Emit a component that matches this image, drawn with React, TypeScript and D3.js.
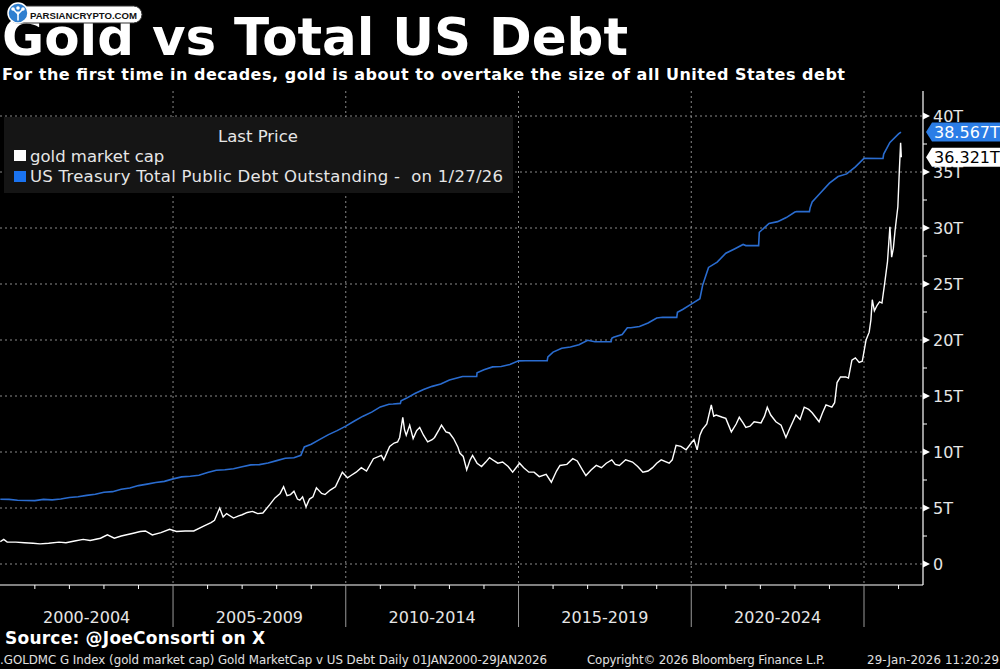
import React from "react";
import * as d3 from "d3";

// gold market cap (trillions USD), sampled at decimal years
const goldYears = [
  2000.0, 2000.1, 2000.2, 2000.45, 2000.7, 2000.95, 2001.15, 2001.4, 2001.7, 2001.9,
  2002.15, 2002.4, 2002.6, 2002.9, 2003.1, 2003.3, 2003.5, 2003.85, 2004.05, 2004.2,
  2004.4, 2004.65, 2004.9, 2005.1, 2005.35, 2005.6, 2005.9, 2006.1, 2006.2, 2006.35,
  2006.45, 2006.55, 2006.75, 2006.9, 2007.0, 2007.15, 2007.3, 2007.45, 2007.6, 2007.8,
  2007.95, 2008.1, 2008.2, 2008.3, 2008.4, 2008.5, 2008.6, 2008.67, 2008.75, 2008.85,
  2008.95, 2009.05, 2009.15, 2009.3, 2009.4, 2009.55, 2009.7, 2009.9, 2010.05, 2010.15,
  2010.3, 2010.45, 2010.6, 2010.8, 2011.03, 2011.1, 2011.27, 2011.4, 2011.5, 2011.56,
  2011.65, 2011.7, 2011.75, 2011.85, 2011.95, 2012.05, 2012.14, 2012.25, 2012.37, 2012.5,
  2012.57, 2012.7, 2012.77, 2012.9, 2013.0, 2013.12, 2013.25, 2013.3, 2013.4, 2013.5,
  2013.6, 2013.67, 2013.8, 2013.93, 2014.05, 2014.16, 2014.3, 2014.4, 2014.54, 2014.7,
  2014.83, 2015.03, 2015.15, 2015.3, 2015.45, 2015.6, 2015.8, 2015.95, 2016.1, 2016.2,
  2016.4, 2016.57, 2016.7, 2016.85, 2016.95, 2017.1, 2017.25, 2017.4, 2017.54, 2017.7,
  2017.8, 2017.92, 2018.1, 2018.3, 2018.45, 2018.6, 2018.75, 2018.88, 2019.0, 2019.13,
  2019.36, 2019.45, 2019.56, 2019.7, 2019.85, 2020.0, 2020.08, 2020.17, 2020.25, 2020.32,
  2020.45, 2020.58, 2020.65, 2020.72, 2020.9, 2021.0, 2021.16, 2021.3, 2021.39, 2021.5,
  2021.58, 2021.7, 2021.82, 2022.02, 2022.12, 2022.2, 2022.3, 2022.45, 2022.6, 2022.74,
  2022.85, 2023.03, 2023.15, 2023.27, 2023.4, 2023.5, 2023.7, 2023.8, 2023.9, 2024.07,
  2024.15, 2024.22, 2024.32, 2024.47, 2024.55, 2024.65, 2024.75, 2024.86, 2024.95, 2025.06,
  2025.15, 2025.2, 2025.24, 2025.3, 2025.38, 2025.45, 2025.52, 2025.6, 2025.68, 2025.75,
  2025.8, 2025.85, 2025.9, 2025.98, 2026.02, 2026.06, 2026.08,
];
const goldValues = [
  2.0, 2.2, 1.95, 1.95, 1.9, 1.85, 1.8, 1.85, 1.95, 1.9,
  2.05, 2.2, 2.1, 2.3, 2.6, 2.3, 2.5, 2.75, 2.9, 2.95,
  2.6, 2.8, 3.1, 2.9, 2.95, 2.95, 3.4, 3.7, 3.9, 5.0,
  4.2, 4.5, 4.1, 4.3, 4.4, 4.6, 4.7, 4.5, 4.55, 5.3,
  5.9, 6.3, 6.9, 6.1, 6.2, 6.5, 5.8, 5.7, 6.0, 5.1,
  5.8, 6.0, 6.8, 6.3, 6.2, 6.6, 6.9, 8.2, 7.7, 7.9,
  8.2, 8.6, 8.3, 9.4, 9.7, 9.3, 10.5, 10.8, 10.9, 11.3,
  13.1, 12.0, 11.5, 12.4, 11.2, 11.9, 12.2, 11.5, 10.9, 11.1,
  11.3, 12.0, 12.4, 11.8, 11.7, 11.2, 10.4, 9.9, 9.6, 8.4,
  9.3, 9.7, 9.0, 8.7, 9.1, 9.5, 9.2, 9.0, 9.1, 8.7,
  8.2, 9.0, 8.6, 8.2, 8.2, 7.8, 8.0, 7.3, 8.3, 8.8,
  8.9, 9.4, 9.2, 8.4, 7.9, 8.4, 8.8, 8.6, 9.0, 9.3,
  8.9, 8.8, 9.3, 9.1, 8.7, 8.2, 8.3, 8.6, 9.0, 9.3,
  9.0, 9.3, 10.6, 10.5, 10.2, 10.8, 11.1, 10.2, 11.5, 12.0,
  12.5, 14.2, 13.2, 13.3, 13.1, 13.0, 11.8, 12.5, 13.1, 12.6,
  12.2, 12.3, 12.7, 12.6, 13.2, 14.0, 13.3, 12.7, 12.4, 11.3,
  12.1, 13.3, 12.9, 14.0, 13.8, 13.5, 12.7, 13.5, 14.2, 14.0,
  14.4, 16.2, 16.7, 16.7, 16.6, 18.2, 18.4, 18.0, 18.1, 20.0,
  20.7, 21.8, 23.6, 22.6, 23.1, 23.4, 23.3, 25.1, 27.0, 30.1,
  27.4, 28.2, 29.8, 31.9, 34.9, 37.6, 36.321,
];

// US Treasury total public debt outstanding (trillions USD)
const debtYears = [
  2000.0, 2000.25, 2000.5, 2000.75, 2001.0, 2001.25, 2001.5, 2001.75, 2002.0, 2002.25,
  2002.5, 2002.75, 2003.0, 2003.25, 2003.5, 2003.75, 2004.0, 2004.25, 2004.5, 2004.75,
  2005.0, 2005.25, 2005.5, 2005.75, 2006.0, 2006.25, 2006.5, 2006.75, 2007.0, 2007.25,
  2007.5, 2007.75, 2008.0, 2008.25, 2008.5, 2008.7, 2008.8, 2009.0, 2009.25, 2009.5,
  2009.75, 2010.0, 2010.25, 2010.5, 2010.75, 2011.0, 2011.25, 2011.37, 2011.58, 2011.6,
  2011.75, 2012.0, 2012.25, 2012.5, 2012.75, 2013.0, 2013.38, 2013.79, 2013.8, 2014.0,
  2014.25, 2014.5, 2014.75, 2015.0, 2015.2, 2015.83, 2015.85, 2016.0, 2016.25, 2016.5,
  2016.75, 2017.0, 2017.21, 2017.68, 2017.7, 2017.75, 2018.0, 2018.15, 2018.25, 2018.5,
  2018.75, 2019.0, 2019.17, 2019.58, 2019.6, 2019.75, 2020.0, 2020.25, 2020.33, 2020.5,
  2020.75, 2021.0, 2021.25, 2021.5, 2021.58, 2021.95, 2021.97, 2022.25, 2022.5, 2022.75,
  2023.0, 2023.05, 2023.42, 2023.44, 2023.5, 2023.75, 2024.0, 2024.25, 2024.5, 2024.75,
  2025.0, 2025.55, 2025.57, 2025.75, 2026.0, 2026.07,
];
const debtValues = [
  5.78, 5.77, 5.69, 5.67, 5.66, 5.77, 5.73, 5.81, 5.94, 6.01,
  6.13, 6.23, 6.41, 6.46, 6.67, 6.78, 7.0, 7.13, 7.27, 7.38,
  7.6, 7.78, 7.84, 7.93, 8.17, 8.37, 8.42, 8.51, 8.68, 8.85,
  8.87, 9.01, 9.23, 9.44, 9.49, 9.7, 10.45, 10.7, 11.13, 11.55,
  11.91, 12.31, 12.77, 13.2, 13.56, 14.03, 14.27, 14.29, 14.34, 14.58,
  14.79, 15.22, 15.58, 15.86, 16.07, 16.43, 16.74, 16.74, 17.08, 17.35,
  17.6, 17.63, 17.82, 18.14, 18.15, 18.15, 18.49, 18.92, 19.26, 19.38,
  19.57, 19.98, 19.85, 19.84, 20.16, 20.24, 20.49, 21.09, 21.09, 21.2,
  21.52, 21.97, 22.03, 22.02, 22.47, 22.72, 23.2, 23.69, 24.9, 26.48,
  26.95, 27.75, 28.13, 28.53, 28.43, 28.43, 29.62, 30.4, 30.57, 30.93,
  31.42, 31.46, 31.46, 31.8, 32.33, 33.17, 34.0, 34.59, 34.83, 35.46,
  36.22, 36.21, 36.6, 37.64, 38.4, 38.567,
];

const periodStarts = [2000, 2005, 2010, 2015, 2020, 2025];
const periodLabels = ["2000-2004", "2005-2009", "2010-2014", "2015-2019", "2020-2024", ""];
const yTicks = [0, 5, 10, 15, 20, 25, 30, 35, 40];

const debtLast = 38.567;
const goldLast = 36.321;

const W = 1000;
const H = 669;
const plot = { left: 0, right: 923, top: 91, bottom: 585 };
const font = "'DejaVu Sans', Verdana, sans-serif";

const x = d3.scaleLinear().domain([2000, 2025]).range([0.3, 864]);
const y = d3.scaleLinear().domain([0, 40]).range([564, 116]);

const goldLine = d3
  .line<number>()
  .x((_, i) => x(goldYears[i]))
  .y((d) => y(d));
const debtLine = d3
  .line<number>()
  .x((_, i) => x(debtYears[i]))
  .y((d) => y(d));

// last-value flag on the right axis
const Tag = ({ value, fill, color }: { value: number; fill: string; color: string }) => {
  const cy = y(value);
  const h = 9.5;
  return (
    <g>
      <path
        d={`M${plot.right + 3},${cy} L${plot.right + 9},${cy - h} L${W},${cy - h} L${W},${cy + h} L${plot.right + 9},${cy + h} Z`}
        fill={fill}
      />
      <text x={934} y={cy} dy="0.36em" fill={color} fontSize={16} fontFamily={font}>
        {value.toFixed(3)}T
      </text>
    </g>
  );
};

export default function App() {
  const years = d3.range(2001, 2027).filter((yr) => yr % 5 !== 0);
  const minor = d3.range(2.5, 40, 5);

  return (
    <svg
      width={W}
      height={H}
      style={{ position: "absolute", left: 0, top: 0, background: "#000" }}
    >
      <rect width={W} height={H} fill="#000" />

      {/* grid */}
      {yTicks.map((t) => (
        <line
          key={"h" + t}
          x1={plot.left}
          x2={plot.right}
          y1={y(t)}
          y2={y(t)}
          stroke="#8a8a8a"
          strokeDasharray="2,3"
        />
      ))}
      {periodStarts.slice(1).map((p) => (
        <line
          key={"v" + p}
          x1={x(p)}
          x2={x(p)}
          y1={plot.top}
          y2={plot.bottom}
          stroke="#8a8a8a"
          strokeDasharray="2,3"
        />
      ))}

      {/* series */}
      <path d={debtLine(debtValues) || ""} fill="none" stroke="#2a6ccf" strokeWidth={1.6} />
      <path d={goldLine(goldValues) || ""} fill="none" stroke="#ffffff" strokeWidth={1.4} />

      {/* axes */}
      <line x1={plot.right} x2={plot.right} y1={plot.top} y2={plot.bottom} stroke="#fff" strokeWidth={1.2} />
      <line x1={plot.left} x2={plot.right} y1={plot.bottom} y2={plot.bottom} stroke="#fff" strokeWidth={1.2} />
      {minor.map((t) => (
        <line key={"m" + t} x1={plot.right} x2={plot.right + 4} y1={y(t)} y2={y(t)} stroke="#fff" />
      ))}
      {yTicks.map((t) => (
        <g key={"yt" + t}>
          <path d={`M${plot.right},${y(t) - 3.5} L${plot.right + 7},${y(t)} L${plot.right},${y(t) + 3.5} Z`} fill="#fff" />
          <text x={933} y={y(t)} dy="0.36em" fill="#e6e6e6" fontSize={16} fontFamily={font}>
            {t === 0 ? "0" : `${t}T`}
          </text>
        </g>
      ))}
      {years.map((yr) => (
        <line key={"yr" + yr} x1={x(yr)} x2={x(yr)} y1={plot.bottom} y2={plot.bottom + 4} stroke="#fff" />
      ))}
      {periodStarts.slice(1).map((p) => (
        <line key={"sep" + p} x1={x(p)} x2={x(p)} y1={plot.bottom} y2={627} stroke="#9a9a9a" />
      ))}
      {periodLabels.map((lab, i) =>
        lab ? (
          <text
            key={lab}
            x={(x(periodStarts[i]) + x(periodStarts[i] + 5)) / 2}
            y={623}
            textAnchor="middle"
            fill="#e6e6e6"
            fontSize={16}
            fontFamily={font}
          >
            {lab}
          </text>
        ) : null
      )}

      <Tag value={debtLast} fill="#2b7de6" color="#fff" />
      <Tag value={goldLast} fill="#ffffff" color="#000" />

      {/* legend */}
      <rect x={4} y={117} width={509} height={76} fill="#151515" />
      <text x={258} y={142} textAnchor="middle" fill="#e6e6e6" fontSize={16.5} fontFamily={font}>
        Last Price
      </text>
      <rect x={14} y={150} width={12} height={11} fill="#fff" />
      <text x={30} y={162} fill="#e6e6e6" fontSize={16.5} fontFamily={font}>
        gold market cap
      </text>
      <rect x={14} y={171} width={12} height={11} fill="#1a73f0" />
      <text
        x={30}
        y={182}
        fill="#e6e6e6"
        fontSize={16.5}
        fontFamily={font}
        textLength={473}
        lengthAdjust="spacing"
        style={{ whiteSpace: "pre" }}
      >
        {"US Treasury Total Public Debt Outstanding -  on 1/27/26"}
      </text>

      {/* headings */}
      <text x={2} y={55} fill="#fff" fontSize={51.5} fontWeight="bold" fontFamily={font} textLength={626} lengthAdjust="spacing">
        Gold vs Total US Debt
      </text>
      <text x={2} y={80} fill="#fff" fontSize={16} fontWeight="bold" fontFamily={font} textLength={843} lengthAdjust="spacing">
        For the first time in decades, gold is about to overtake the size of all United States debt
      </text>

      {/* site badge */}
      <rect x={9} y={6} width={133} height={17} rx={8.5} fill="#fff" stroke="#333" strokeWidth={1} />
      <circle cx={18} cy={13} r={10} fill="#2f7fd0" stroke="#fff" strokeWidth={1.5} />
      <g stroke="#fff" strokeWidth={1.6} strokeLinecap="round" fill="none">
        <line x1={18} y1={20} x2={18} y2={12} />
        <line x1={18} y1={14} x2={13} y2={9} />
        <line x1={18} y1={14} x2={23} y2={9} />
      </g>
      <circle cx={13} cy={9} r={1.8} fill="#fff" />
      <circle cx={23} cy={9} r={1.8} fill="#fff" />
      <circle cx={18} cy={8} r={1.8} fill="#fff" />
      <text
        x={30}
        y={18.5}
        fill="#111"
        fontSize={9.5}
        fontWeight="bold"
        fontFamily="'Liberation Sans', Arial, sans-serif"
        textLength={107}
        lengthAdjust="spacingAndGlyphs"
      >
        PARSIANCRYPTO.COM
      </text>

      {/* footer */}
      <text x={5} y={644} fill="#fff" fontSize={17} fontWeight="bold" fontFamily={font} textLength={260} lengthAdjust="spacing">
        Source: @JoeConsorti on X
      </text>
      <text x={0} y={664} fill="#e0e0e0" fontSize={11.8} fontFamily={font} textLength={547} lengthAdjust="spacing">
        .GOLDMC G Index (gold market cap) Gold MarketCap v US Debt Daily 01JAN2000-29JAN2026
      </text>
      <text x={587} y={664} fill="#e0e0e0" fontSize={11.8} fontFamily={font} textLength={238} lengthAdjust="spacing">
        Copyright© 2026 Bloomberg Finance L.P.
      </text>
      <text x={867} y={664} fill="#e0e0e0" fontSize={11.8} fontFamily={font} textLength={132} lengthAdjust="spacing">
        29-Jan-2026 11:20:29
      </text>
    </svg>
  );
}
